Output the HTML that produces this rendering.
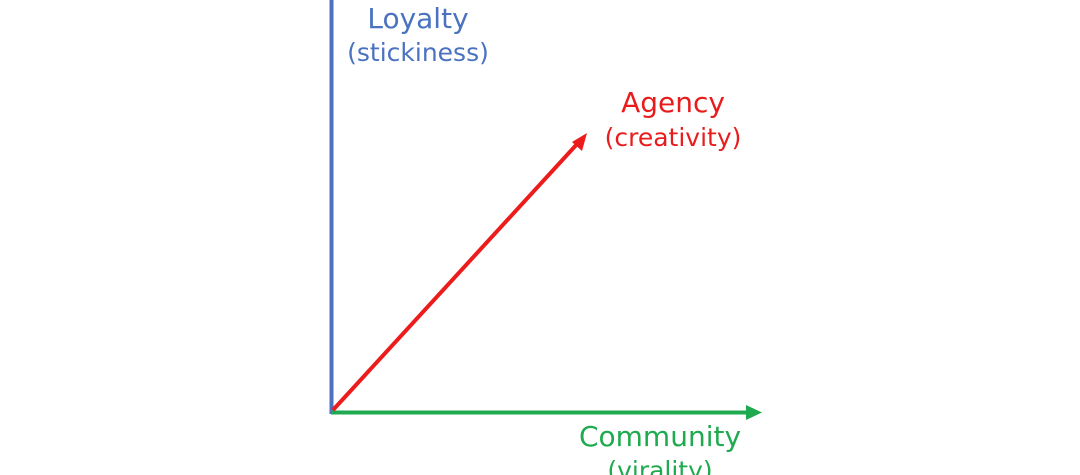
<!DOCTYPE html>
<html><head><meta charset="utf-8"><style>
html,body{margin:0;padding:0;background:#fff;}
body{width:1080px;height:475px;overflow:hidden;position:relative;}
svg{position:absolute;left:0;top:0;}
</style></head><body>
<svg width="1080" height="475" viewBox="0 0 1080 475">
<line x1="331.5" y1="0" x2="331.5" y2="414" stroke="#4a72c0" stroke-width="4"/>
<line x1="331" y1="412.5" x2="750" y2="412.5" stroke="#1faa4f" stroke-width="4"/>
<polygon points="762,412.5 746,405 746,420" fill="#1faa4f"/>
<line x1="333" y1="410" x2="578" y2="143" stroke="#ec1c1c" stroke-width="4"/>
<polygon points="587,133 572,142 582,151" fill="#ec1c1c"/>
<g font-family="DejaVu Sans, sans-serif" text-anchor="middle">
<text x="418" y="28" font-size="28" fill="#4a72c0">Loyalty</text>
<text x="418" y="61" font-size="25" fill="#4a72c0">(stickiness)</text>
<text x="673" y="112" font-size="28" fill="#e81c1c">Agency</text>
<text x="673" y="146" font-size="25" fill="#e81c1c">(creativity)</text>
<text x="660" y="446" font-size="28" fill="#1faa4f">Community</text>
<text x="660" y="479" font-size="25" fill="#1faa4f">(virality)</text>
</g>
</svg>
</body></html>
